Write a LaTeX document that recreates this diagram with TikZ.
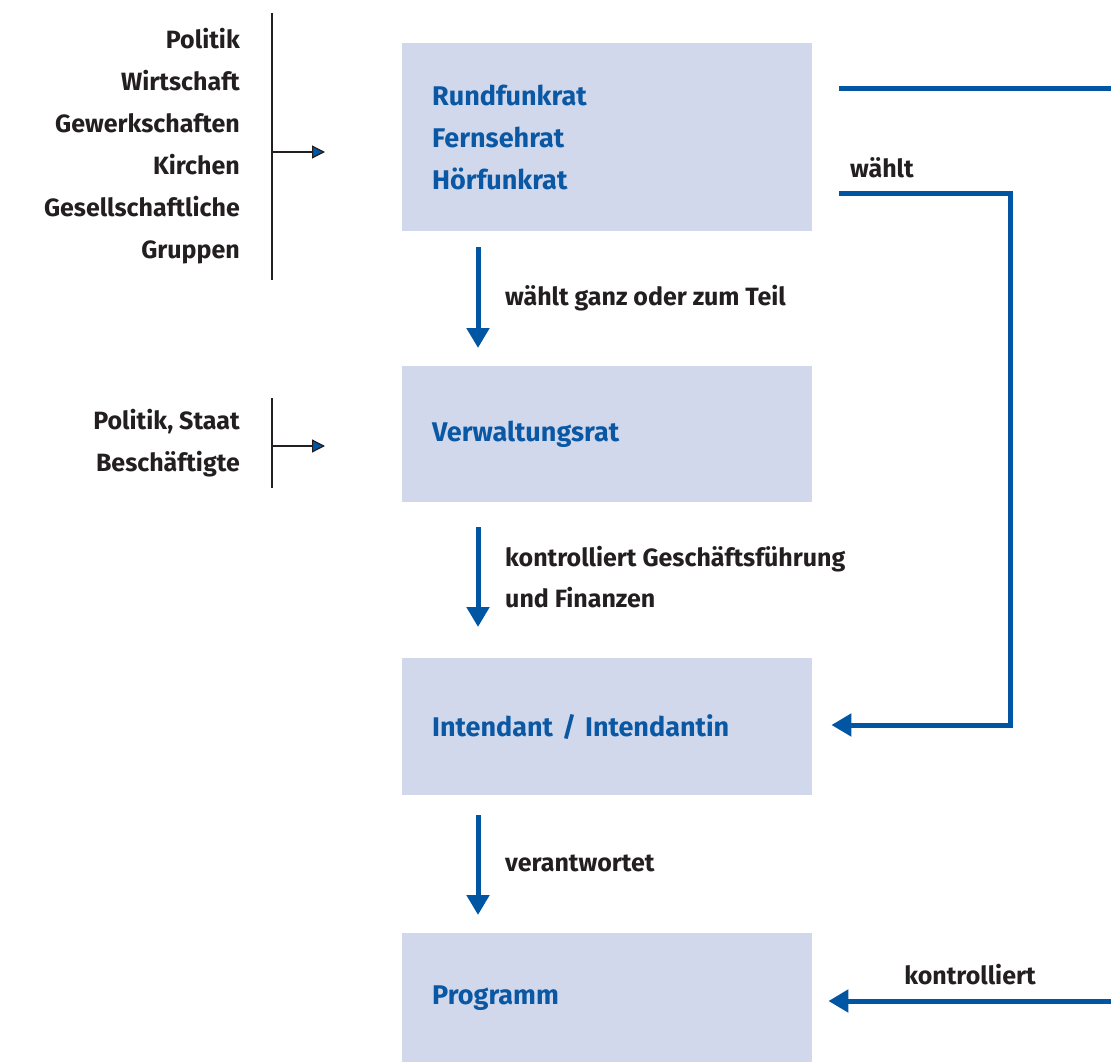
\documentclass[tikz,border=0pt]{standalone}
\usepackage{fontspec}
\setmainfont{Fira Sans}
\usetikzlibrary{arrows.meta,calc}
\definecolor{boxfill}{HTML}{D1D8EC}
\definecolor{bluetxt}{HTML}{0A57A3}
\definecolor{blueline}{HTML}{0056A2}
\definecolor{darktxt}{HTML}{231F20}
\begin{document}
\begin{tikzpicture}[x=1pt,y=-1pt,
  font=\fontsize{25pt}{42pt}\selectfont\bfseries,
  box/.style={fill=boxfill,anchor=north west,text width=350pt,inner xsep=30pt,inner ysep=0pt,align=left,text=bluetxt,font=\fontsize{27pt}{42pt}\selectfont\bfseries},
  lbl/.style={text=darktxt,inner sep=0pt},
  bl/.style={draw=blueline,line width=5pt},
  bldown/.style={bl,-{Triangle[width=22pt,length=20pt]}},
  blleft/.style={bl,-{Triangle[width=22pt,length=20pt]}},
  bk/.style={draw=darktxt,line width=2.8pt},
  bkarr/.style={bk,-{Triangle[width=13pt,length=13pt,fill=blueline,line width=1.2pt]}}]
\useasboundingbox (0,0) rectangle (1111,1062);

% boxes
\node[box,minimum height=188pt] (rat) at (402,43) {Rundfunkrat\\Fernsehrat\\Hörfunkrat};
\node[box,minimum height=136pt] (verw) at (402,366) {Verwaltungsrat};
\node[box,minimum height=137pt] (int) at (402,658) {Intendant / Intendantin};
\node[box,minimum height=129pt] (prog) at (402,933) {Programm};

% left groups
\node[lbl,align=right,anchor=east] (g1) at (240,146) {Politik\\Wirtschaft\\Gewerkschaften\\Kirchen\\Gesellschaftliche\\Gruppen};
\coordinate (b1t) at (272,13);
\coordinate (b1b) at (272,280);
\coordinate (b1m) at (272,152);
\coordinate (b1e) at (325,152);
\draw[bk] (b1t) -- (b1b);
\draw[bkarr] (b1m) -- (b1e);

\node[lbl,align=right,anchor=east] (g2) at (240,443.5) {Politik, Staat\\Beschäftigte};
\coordinate (b2t) at (272,398);
\coordinate (b2b) at (272,488);
\coordinate (b2m) at (272,446);
\coordinate (b2e) at (325,446);
\draw[bk] (b2t) -- (b2b);
\draw[bkarr] (b2m) -- (b2e);

% down arrows
\coordinate (d1s) at ($(rat.south west)+(76,16)$);
\coordinate (d1e) at ($(verw.north west)+(76,-18)$);
\draw[bldown] (d1s) -- (d1e);
\node[lbl,anchor=west] (l1) at ($(d1s)!0.5!(d1e)+(27,0)$) {wählt ganz oder zum Teil};

\coordinate (d2s) at ($(verw.south west)+(76,25)$);
\coordinate (d2e) at ($(int.north west)+(76,-31)$);
\draw[bldown] (d2s) -- (d2e);
\node[lbl,anchor=west,align=left,font=\fontsize{25pt}{41pt}\selectfont\bfseries] (l2) at ($(d2s)!0.5!(d2e)+(27,0)$) {kontrolliert Geschäftsführung\\und Finanzen};

\coordinate (d3s) at ($(int.south west)+(76,20)$);
\coordinate (d3e) at ($(prog.north west)+(76,-18)$);
\draw[bldown] (d3s) -- (d3e);
\node[lbl,anchor=west] (l3) at ($(d3s)!0.5!(d3e)+(27,-2)$) {verantwortet};

% right connectors
\coordinate (r1) at (1111,89);
\draw[bl] ($(rat.east |- r1)+(27,0)$) -- (r1);

\coordinate (c1) at (1010,193);
\coordinate (c2) at (1010,725);
\node[lbl,anchor=west] (w) at (850,168) {wählt};
\draw[blleft] ($(rat.east |- c1)+(27,0)$) -- (c1) -- (c2) -- ($(int.east |- c2)+(19,0)$);

\coordinate (r4) at (1111,1001);
\draw[blleft] (r4) -- ($(prog.east |- r4)+(16,0)$);
\node[lbl] (k) at (970,975) {kontrolliert};
\end{tikzpicture}
\end{document}
